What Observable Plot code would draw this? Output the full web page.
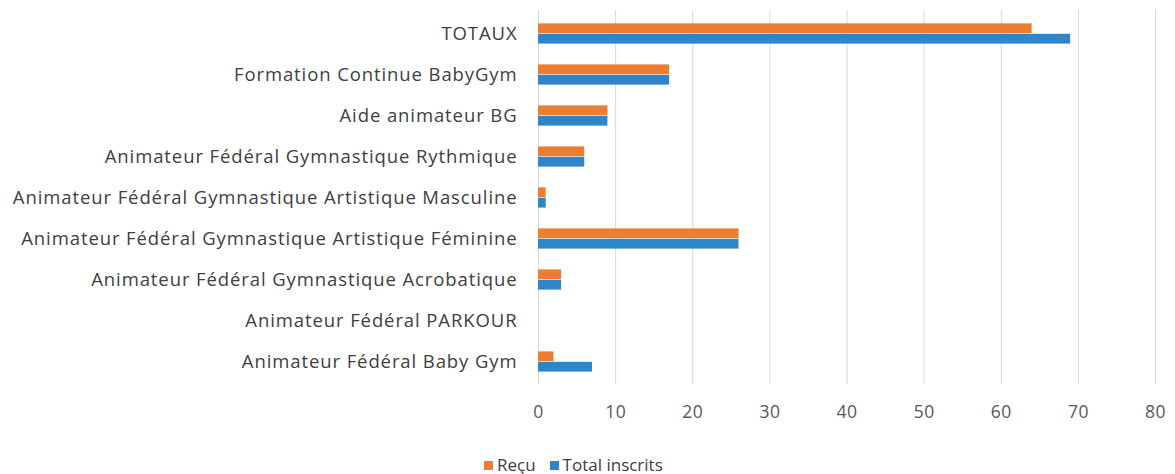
<!DOCTYPE html>
<html><head><meta charset="utf-8">
<script src="https://cdn.jsdelivr.net/npm/d3@7"></script>
<script src="https://cdn.jsdelivr.net/npm/@observablehq/plot@0.6"></script>
<style>
body{margin:0;background:#fff;font-family:"Open Sans",sans-serif;}
#legend{display:flex;justify-content:flex-start;gap:14px;margin-left:484px;margin-top:15px;font-size:17px;color:#404040;line-height:20px;}
#legend span{display:inline-flex;align-items:center;}
#legend i{display:inline-block;width:9px;height:9px;margin-right:4px;}
g[aria-label="y-axis tick label"] text{letter-spacing:0.9px;}
g[aria-label="x-axis tick label"] text{letter-spacing:0.5px;}
</style></head>
<body>
<div id="chart"></div>
<div id="legend"></div>
<script>
const categories = ["TOTAUX","Formation Continue BabyGym","Aide animateur BG","Animateur Fédéral Gymnastique Rythmique","Animateur Fédéral Gymnastique Artistique Masculine","Animateur Fédéral Gymnastique Artistique Féminine","Animateur Fédéral Gymnastique Acrobatique","Animateur Fédéral PARKOUR","Animateur Fédéral Baby Gym"];
const recu = [64,17,9,6,1,26,3,0,2];
const totalInscrits = [69,17,9,6,1,26,3,0,7];
const series = ["Reçu","Total inscrits"];
const colors = ["#ED7D31","#2E86C8"];
const xTicks = [0,10,20,30,40,50,60,70,80];

const rows = categories.map((c,i)=>({cat:c, recu:recu[i], total:totalInscrits[i]}));

const plot = Plot.plot({
  width:1175, height:440,
  marginLeft:538, marginRight:20, marginTop:10, marginBottom:56,
  style:{fontFamily:"'Open Sans', sans-serif", fontSize:"17px", color:"#404040"},
  x:{domain:[0,80], ticks:xTicks, label:null},
  y:{domain:categories, padding:0, label:null},
  marks:[
    Plot.ruleX(xTicks,{stroke:"#d9d9d9", strokeWidth:1}),
    Plot.barX(rows,{y:"cat", x:"recu", fill:colors[0], insetTop:10.4, insetBottom:20.8}),
    Plot.barX(rows,{y:"cat", x:"total", fill:colors[1], insetTop:20.8, insetBottom:10.4}),
    Plot.axisX({ticks:xTicks, tickSize:0, tickPadding:21, label:null, fill:"#595959", fontSize:17.5}),
    Plot.axisY({tickSize:0, tickPadding:21, label:null, fill:"#404040", fontSize:18.5})
  ]
});
document.getElementById("chart").appendChild(plot);
const lg = document.getElementById("legend");
series.forEach((s,i)=>{
  const sp=document.createElement("span");
  sp.innerHTML=`<i style="background:${colors[i]}"></i>${s}`;
  lg.appendChild(sp);
});
</script>
</body></html>
